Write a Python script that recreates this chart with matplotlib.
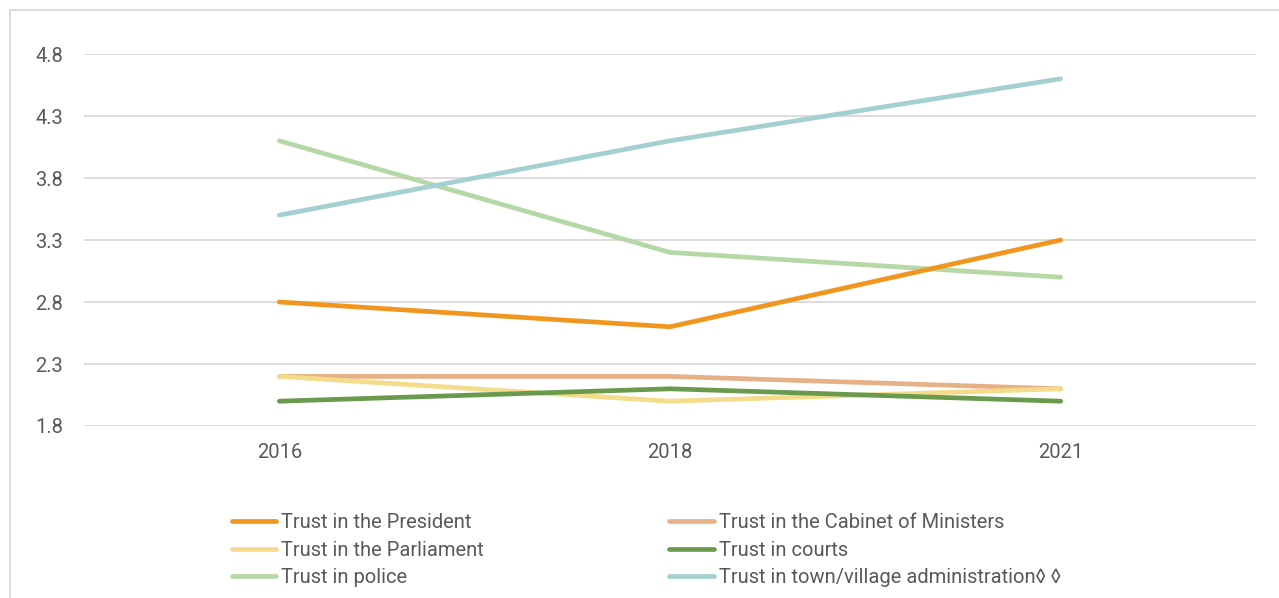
import matplotlib.pyplot as plt
from matplotlib.lines import Line2D

plt.rcParams['font.family'] = ['Roboto', 'DejaVu Sans']

# data
years = ['2016', '2018', '2021']
president = [2.8, 2.6, 3.3]
cabinet = [2.2, 2.2, 2.1]
parliament = [2.2, 2.0, 2.1]
courts = [2.0, 2.1, 2.0]
police = [4.1, 3.2, 3.0]
town_admin = [3.5, 4.1, 4.6]

labels = ['Trust in the President', 'Trust in the Cabinet of Ministers',
          'Trust in the Parliament', 'Trust in courts',
          'Trust in police', 'Trust in town/village administration\u25ca \u25ca']
series = [president, cabinet, parliament, courts, police, town_admin]
colors = ['#F0961F', '#E6B186', '#F5DC8C', '#6A9A4D', '#B6D8A6', '#A5D0D1']
# draw order: back to front
order = [4, 5, 1, 2, 3, 0]

yticks = [1.8, 2.3, 2.8, 3.3, 3.8, 4.3, 4.8]
text_color = '#595959'
fs = 14.5
lw = 3.4

fig = plt.figure(figsize=(12.79, 5.98), dpi=100)
ax = fig.add_axes([84 / 1279, 1 - 426 / 598, (1256 - 84) / 1279, (426 - 54) / 598])

x = range(len(years))
for i in order:
    ax.plot(x, series[i], color=colors[i], lw=lw, solid_capstyle='round',
            solid_joinstyle='round', zorder=3)

ax.set_xlim(-0.5, 2.5)
ax.set_ylim(1.8, 4.8)
ax.set_yticks(yticks)
ax.set_yticklabels([f'{v:.1f}' for v in yticks])
ax.set_xticks(list(x))
ax.set_xticklabels(years)
ax.grid(axis='y', color='#D9D9D9', lw=1.3, zorder=0)
ax.tick_params(axis='both', length=0, labelsize=fs, colors=text_color)
ax.tick_params(axis='y', pad=15)
ax.tick_params(axis='x', pad=12)
for s in ax.spines.values():
    s.set_visible(False)

# legend is filled column by column, reference reads row by row
col_order = [0, 2, 4, 1, 3, 5]
handles = [Line2D([0], [0], color=colors[i], lw=lw, solid_capstyle='round') for i in col_order]
leg = fig.legend(handles, [labels[i] for i in col_order], ncol=2, loc='upper left',
                 bbox_to_anchor=(232 / 1279, 1 - 513 / 598), frameon=False,
                 fontsize=fs, handlelength=2.2, handletextpad=0.25,
                 columnspacing=9.2, labelspacing=0.43, borderaxespad=0, borderpad=0)
for t in leg.get_texts():
    t.set_color(text_color)

# outer chart border (only top and left visible in the crop)
fig.add_artist(Line2D([10 / 1279, 10 / 1279], [0, 1 - 10 / 598], color='#D9D9D9', lw=1.3,
                      transform=fig.transFigure))
fig.add_artist(Line2D([10 / 1279, 1], [1 - 10 / 598, 1 - 10 / 598], color='#D9D9D9', lw=1.3,
                      transform=fig.transFigure))

fig.savefig('out.png', dpi=100)
